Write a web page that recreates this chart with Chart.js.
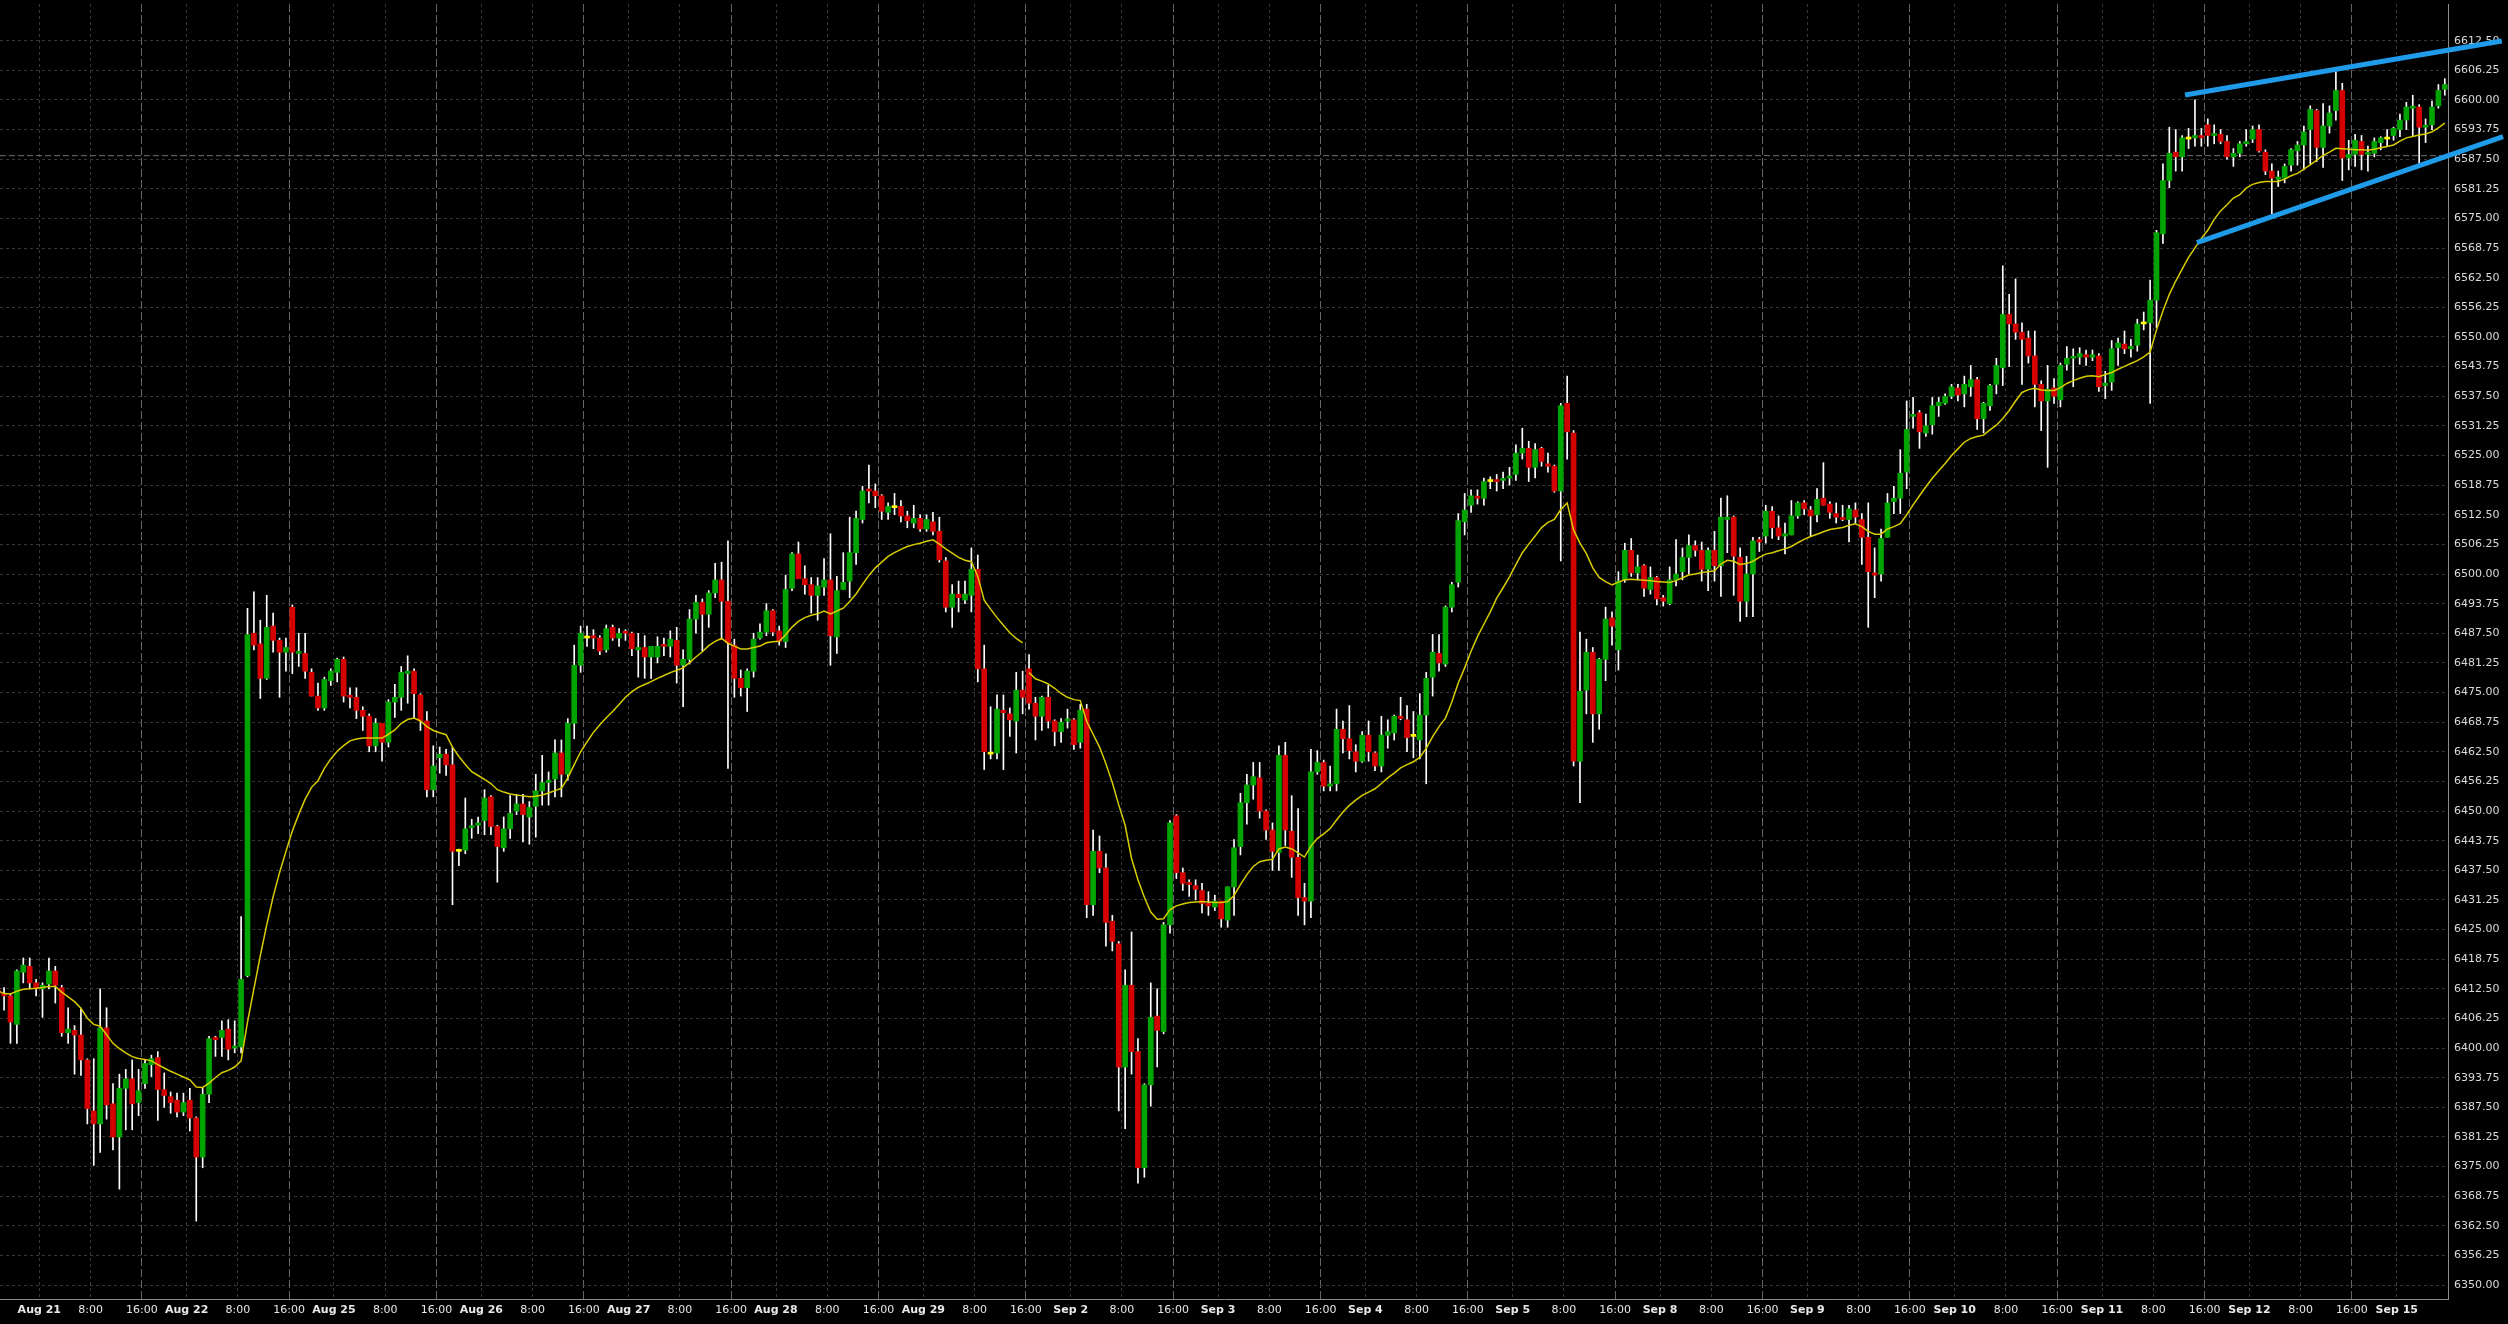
<!DOCTYPE html>
<html>
<head>
<meta charset="utf-8">
<script src="https://cdn.jsdelivr.net/npm/chart.js@4.4.1/dist/chart.umd.min.js"></script>
<style>
  html, body { margin: 0; padding: 0; background: #000; }
  canvas { display: block; background: #000; }
</style>
</head>
<body>
<canvas id="myChart" width="2508" height="1324"></canvas>
<script>
// hourly candles, Aug 20 18:00 .. Sep 15 07:00
const dayNames = ['Aug 21', 'Aug 22', 'Aug 25', 'Aug 26', 'Aug 27', 'Aug 28', 'Aug 29', 'Sep 2', 'Sep 3',
  'Sep 4', 'Sep 5', 'Sep 8', 'Sep 9', 'Sep 10', 'Sep 11', 'Sep 12', 'Sep 15'];
const hourNames = ['8:00', '16:00'];
const firstDayCandle = 7;
const candlesPerDay = 23;
const hourOffsets = [8, 16];

const opens = [
  6412.5, 6411.5, 6411, 6405, 6416, 6417.25, 6413.75, 6412.5, 6413.5, 6416.25,
  6412.75, 6403.25, 6403.75, 6402.75, 6397.5, 6386.75, 6384, 6404.25, 6388.25, 6381.25,
  6391.5, 6393.5, 6388.5, 6392.5, 6396.5, 6398, 6391.25, 6389.75, 6389, 6386.5,
  6389, 6385.25, 6377, 6390.25, 6402.25, 6402.25, 6404, 6400, 6400.25, 6415.25,
  6487.5, 6485.25, 6478, 6489, 6486, 6483.5, 6493, 6483.25, 6483.25, 6479.25,
  6474.25, 6471.75, 6477.5, 6479.25, 6482, 6474.25, 6474, 6471.25, 6470, 6463.75,
  6468.5, 6464.5, 6473, 6474, 6479, 6479.5, 6474.5, 6469, 6454.5, 6461.25,
  6462, 6459.75, 6441.5, 6441.75, 6446.5, 6447, 6448, 6453, 6446.75, 6442.25,
  6446.25, 6450, 6451.5, 6448.75, 6451, 6454.25, 6456, 6456.75, 6462.25, 6457.75,
  6468.5, 6480.75, 6486.5, 6487, 6486.5, 6484, 6488.75, 6486.5, 6487.75, 6487.5,
  6484, 6484.5, 6482.5, 6482.5, 6485, 6484.75, 6486, 6480.75, 6482, 6490.5,
  6494, 6491.5, 6496, 6498.75, 6494.25, 6485, 6478, 6476, 6479.5, 6486.5,
  6487.75, 6492.25, 6488, 6485.75, 6497, 6504.25, 6499, 6497.75, 6495.5, 6497.25,
  6498.75, 6486.75, 6496.75, 6498.5, 6504.5, 6511.5, 6517.75, 6517.5, 6516.5, 6513,
  6514, 6514.25, 6512.25, 6510.75, 6511.75, 6509.5, 6511, 6509, 6502.75, 6493,
  6495.75, 6494.5, 6495.5, 6501, 6480, 6462, 6462.25, 6471.25, 6470.5, 6469,
  6475.5, 6480, 6472.75, 6470, 6474, 6469, 6466.75, 6469, 6469.25, 6464.5,
  6471.5, 6430.25, 6441.5, 6438, 6426.75, 6422, 6396, 6413.25, 6399.25, 6374.75,
  6392.25, 6406.75, 6403.5, 6426, 6449, 6437, 6434.75, 6434.25, 6433.25, 6430.5,
  6429.75, 6431, 6427, 6434, 6442.5, 6451.75, 6455.5, 6457, 6450, 6446,
  6441.25, 6461.75, 6445.75, 6440.25, 6431.75, 6431, 6458.25, 6460.25, 6455.25, 6455.75,
  6467.25, 6465.25, 6462.5, 6460.5, 6466, 6462.25, 6459.5, 6466, 6466.5, 6470,
  6469.25, 6465.75, 6465, 6470.25, 6478.25, 6483.25, 6481, 6493, 6498.25, 6511,
  6514.5, 6516.25, 6516, 6519.5, 6519.75, 6519.75, 6520.25, 6521, 6525.5, 6526.5,
  6522.5, 6526.5, 6523.25, 6522.75, 6517.5, 6536, 6529.75, 6460.5, 6475.5, 6483.5,
  6470.5, 6482, 6490.75, 6484, 6498.75, 6505, 6500.25, 6501.75, 6496.75, 6499.25,
  6495, 6493.75, 6498.75, 6500.5, 6503.5, 6506, 6505, 6501, 6505, 6501.75,
  6511.5, 6512, 6503.5, 6494.25, 6500, 6507.25, 6508, 6513.25, 6509.75, 6508,
  6508.25, 6512.25, 6515, 6513.5, 6512.5, 6516, 6514.75, 6512.75, 6511.75, 6511.5,
  6513.5, 6511.5, 6507.75, 6500.25, 6500, 6507.75, 6515.25, 6516, 6521.5, 6533.25,
  6534, 6529.75, 6531.5, 6535.5, 6536, 6537.5, 6539.25, 6538, 6539.5, 6541,
  6532.75, 6535.5, 6540, 6543.5, 6554.75, 6552.75, 6551, 6549.75, 6546, 6540,
  6536.5, 6539.25, 6536.75, 6544.25, 6545.5, 6545.75, 6546.25, 6545.75, 6546, 6539.75,
  6540.5, 6547.75, 6548.5, 6547.5, 6548.25, 6552.75, 6553, 6557.75, 6571.75, 6583,
  6589, 6588, 6591.75, 6592, 6592.5, 6594.75, 6592.5, 6592.75, 6591.25, 6588,
  6588.75, 6590.75, 6591.75, 6593.75, 6589, 6585, 6583.25, 6583.5, 6586.25, 6589.25,
  6590.5, 6593.75, 6597.75, 6590, 6594.5, 6597.75, 6602, 6587.75, 6588.5, 6591.25,
  6588.5, 6588.75, 6591, 6591.75, 6592.5, 6593.75, 6595.75, 6598.25, 6598.5, 6594.25,
  6594.75, 6598.75, 6602.25
];

const highs = [
  6414, 6412.75, 6411.5, 6416.5, 6419, 6419, 6414.5, 6413.75, 6419, 6417.25,
  6413.25, 6408.5, 6404.75, 6408.25, 6397.75, 6397.75, 6412.5, 6408.5, 6392.5, 6394.5,
  6395.5, 6397.5, 6395.5, 6397.5, 6398.5, 6399.25, 6394.75, 6390.75, 6390.5, 6390.5,
  6391.5, 6385.5, 6391.5, 6402.5, 6402.5, 6405.75, 6406, 6405.75, 6427.75, 6492.75,
  6496.25, 6490.25, 6495.5, 6491.75, 6486.5, 6486.5, 6493.5, 6487.5, 6487.5, 6480,
  6477, 6478.25, 6480, 6482.25, 6482.5, 6476, 6476, 6472, 6470.5, 6469.5,
  6468.5, 6473.5, 6476.75, 6480.5, 6482.75, 6480, 6474.75, 6471, 6463.75, 6463.5,
  6463, 6463.5, 6442, 6452.75, 6448.25, 6448.75, 6454.5, 6453.25, 6447, 6448.75,
  6453.25, 6453.5, 6453.5, 6452, 6457.75, 6461.75, 6458.25, 6465, 6465, 6469.5,
  6485, 6489, 6489, 6488.25, 6487, 6489.25, 6489.25, 6488.5, 6488.25, 6487.75,
  6487.5, 6487, 6484.75, 6486.75, 6486.5, 6488, 6488.75, 6484, 6492.5, 6495.5,
  6494.75, 6496.5, 6502.25, 6502.5, 6507, 6486.25, 6479.75, 6480, 6487.5, 6489.5,
  6493.75, 6492.5, 6489, 6499.75, 6504.5, 6506.75, 6501.75, 6499.25, 6499.25, 6503.25,
  6508.5, 6499.5, 6504.5, 6512, 6513.25, 6518.5, 6523, 6519, 6516.75, 6515,
  6517, 6515.5, 6513.25, 6514.5, 6512.5, 6512.5, 6513, 6512, 6503.5, 6497.75,
  6498.5, 6498.5, 6505.5, 6504, 6485, 6472, 6474.5, 6474.5, 6471.75, 6479.25,
  6479.5, 6483, 6474, 6474.25, 6476.5, 6469.25, 6469.5, 6471.5, 6469.5, 6472.5,
  6472.5, 6446, 6444.75, 6441, 6428, 6422.5, 6416.5, 6424.5, 6402, 6392.5,
  6413.75, 6412.5, 6426.5, 6448, 6449.25, 6438, 6435.5, 6435.5, 6434.75, 6433,
  6432.25, 6431, 6434, 6444, 6453.75, 6457.75, 6460.25, 6460.25, 6450.25, 6447.5,
  6463.75, 6464.5, 6453.25, 6450.5, 6434.75, 6463, 6462.75, 6460.75, 6459.5, 6471.5,
  6469, 6472.25, 6464, 6466.75, 6469, 6462.5, 6470, 6469.25, 6470.25, 6474,
  6472.25, 6471, 6474.75, 6479.25, 6487.25, 6487.25, 6493.25, 6498.25, 6512.75, 6517,
  6517.75, 6517.75, 6520.25, 6520.5, 6521, 6521.5, 6522.5, 6527.25, 6530.75, 6528,
  6527.5, 6526.75, 6525.5, 6523, 6536, 6541.75, 6530.25, 6487.75, 6486.25, 6484.5,
  6482.25, 6493, 6492, 6500.5, 6506.5, 6507.5, 6504, 6502, 6501.5, 6499.5,
  6495.5, 6501.5, 6507.25, 6505.5, 6508.25, 6507, 6506.75, 6505.5, 6509, 6516,
  6516.5, 6512.25, 6505.5, 6503.75, 6507.75, 6507.75, 6514.5, 6514.25, 6512.25, 6510.75,
  6515.5, 6515.25, 6515.5, 6514.25, 6518, 6523.5, 6515.25, 6515, 6514.5, 6514.5,
  6515, 6512.75, 6515, 6505.5, 6509.5, 6517, 6518.5, 6526.25, 6536.5, 6537.25,
  6534.5, 6533.75, 6537.25, 6537.25, 6538, 6540, 6540, 6541.75, 6544, 6541.5,
  6536.25, 6540, 6545.5, 6565, 6559, 6562.25, 6553, 6551.25, 6551.25, 6540.75,
  6544, 6541.25, 6544.5, 6548, 6547.5, 6547.75, 6547.25, 6547.25, 6546.5, 6542.75,
  6549.25, 6549.75, 6551.25, 6549.5, 6553.75, 6555.25, 6562, 6572.5, 6586.5, 6594.25,
  6593.75, 6592.5, 6594, 6600, 6594, 6596, 6594.75, 6593.75, 6592.5, 6589.75,
  6591.25, 6593.75, 6594.5, 6594.75, 6589.5, 6586.5, 6585, 6586.5, 6589.75, 6591.25,
  6594.5, 6598.75, 6598, 6599.25, 6598.75, 6606, 6603.5, 6591.5, 6592.75, 6592.5,
  6590.25, 6592, 6592.25, 6593.75, 6594.25, 6597, 6599.5, 6601, 6599, 6596,
  6599.75, 6603.25, 6604.5
];

const lows = [
  6408.5, 6408, 6401, 6401, 6413.75, 6412.5, 6411, 6406.5, 6412.5, 6409.5,
  6402.5, 6401, 6394.5, 6394.25, 6384, 6375.25, 6378, 6385, 6378.5, 6370.25,
  6382.75, 6382.75, 6385.75, 6391.5, 6394, 6384.75, 6387.5, 6386.25, 6385.5, 6385.75,
  6382.5, 6363.5, 6374.75, 6388.5, 6398.25, 6398.25, 6397.5, 6399, 6399, 6415,
  6484, 6473.75, 6477.75, 6483.5, 6474, 6479.5, 6479, 6480.5, 6478, 6474.25,
  6471.25, 6471.25, 6476.5, 6477.25, 6473, 6471.75, 6469.5, 6467, 6462.5, 6462.5,
  6460.5, 6463.5, 6469.75, 6471.25, 6472.75, 6469.5, 6467, 6453, 6453, 6458,
  6457.5, 6430.25, 6438.5, 6441, 6444.25, 6445.25, 6445, 6445, 6435, 6441.5,
  6444.25, 6449.25, 6443.5, 6443, 6444.5, 6451.25, 6451.25, 6453, 6453, 6456.5,
  6465.25, 6479.25, 6484.75, 6484.25, 6483, 6483.5, 6486, 6484.75, 6486, 6482.75,
  6478.25, 6478, 6478, 6481.25, 6482.75, 6482.5, 6477, 6472, 6481, 6487.5,
  6483.75, 6488.75, 6495, 6486.25, 6459, 6474, 6474.25, 6471, 6478.25, 6486.25,
  6487, 6487, 6485, 6484.5, 6496.5, 6499, 6495.75, 6491.75, 6490.25, 6495.5,
  6480.75, 6483.25, 6496.75, 6495, 6502, 6510.75, 6515, 6514, 6511.5, 6511.5,
  6512.5, 6511, 6509.75, 6509.75, 6509, 6509, 6508.25, 6502.5, 6492, 6488.75,
  6492, 6493.75, 6492, 6477.25, 6458.75, 6461, 6461, 6458.75, 6465.75, 6462.25,
  6470.5, 6471.5, 6465, 6467, 6467.5, 6463.75, 6464.5, 6467.5, 6463, 6463.25,
  6427.5, 6428, 6437, 6421.5, 6420.5, 6386.75, 6383, 6394.5, 6371.5, 6372.75,
  6387.75, 6396, 6403, 6424.25, 6435.75, 6433.25, 6432, 6431.25, 6428.5, 6428,
  6429, 6425.5, 6425.5, 6428, 6440.75, 6447.25, 6452.5, 6448.5, 6444, 6437.5,
  6437.5, 6442.75, 6436, 6428, 6426, 6427.5, 6457.75, 6454.25, 6454.25, 6454.25,
  6462.25, 6461, 6458.25, 6460.25, 6460.5, 6458.5, 6458.25, 6463.25, 6465, 6469.25,
  6462.5, 6461.25, 6461, 6455.75, 6474.25, 6479.5, 6480.5, 6492, 6497.25, 6508.25,
  6513, 6514.75, 6514.5, 6518, 6517.5, 6518, 6518.75, 6519.75, 6524.25, 6519.5,
  6520.25, 6522.75, 6521.5, 6517.25, 6502.75, 6524.25, 6459.5, 6451.75, 6470.5, 6464.5,
  6467.25, 6477.5, 6485, 6479.75, 6498.25, 6499.5, 6498.75, 6495.25, 6495.75, 6493.5,
  6493.25, 6493.5, 6497.5, 6498.75, 6500, 6503.75, 6498.5, 6496.5, 6498.5, 6495.25,
  6504.5, 6495.5, 6490, 6491, 6491, 6504.75, 6506.5, 6507.5, 6507.25, 6504.25,
  6508.25, 6511.75, 6512.5, 6508, 6511, 6514.5, 6511.75, 6510.75, 6511.25, 6506.75,
  6510.75, 6502, 6488.75, 6495, 6498.5, 6507.75, 6512.75, 6512.75, 6518, 6530.75,
  6526.5, 6529, 6529.5, 6533.25, 6535.75, 6537, 6536.5, 6535.25, 6537.5, 6530.5,
  6529.75, 6534.5, 6538, 6539.75, 6543.75, 6549.5, 6540, 6544.5, 6535.25, 6530.25,
  6522.5, 6536, 6535.25, 6543, 6539.5, 6544.25, 6544, 6545, 6538.5, 6537,
  6538.75, 6544, 6546.5, 6545.75, 6547, 6551.5, 6536, 6552, 6569.75, 6581.5,
  6585, 6585, 6589.75, 6590.25, 6590.25, 6590.25, 6590.75, 6590.75, 6587.5, 6586,
  6588, 6590.25, 6591, 6589, 6584.25, 6576, 6581.75, 6582.5, 6585, 6586.25,
  6585.25, 6586.5, 6587, 6585.75, 6593, 6595.75, 6583, 6585.25, 6586, 6585.25,
  6585, 6588, 6589.5, 6590.25, 6591.5, 6592.25, 6593.75, 6592.25, 6586.5, 6591,
  6593.75, 6598.25, 6601
];

const closes = [
  6411.5, 6411, 6405.5, 6416.25, 6417.5, 6413.75, 6412.5, 6413.25, 6416.25, 6413.25,
  6403.25, 6404, 6402.75, 6397.5, 6387.25, 6384, 6404.25, 6388, 6381.25, 6391.5,
  6393.5, 6388.25, 6391, 6396.75, 6397.75, 6391.25, 6390, 6388.5, 6386.5, 6388.5,
  6385.25, 6377, 6390.25, 6402, 6401.75, 6403.75, 6399.75, 6400.25, 6414.5, 6487.25,
  6485, 6478, 6488.75, 6486, 6483.5, 6484.5, 6483.5, 6483.5, 6479.5, 6474.25,
  6471.75, 6477.75, 6479.5, 6482, 6474.25, 6474, 6471.25, 6470, 6463.75, 6468.5,
  6464.5, 6473, 6474, 6479.25, 6479.5, 6474.75, 6469, 6454.5, 6459.5, 6462,
  6459.75, 6441.5, 6441.5, 6446.25, 6446.75, 6447.5, 6452.75, 6446.75, 6442.5, 6446.25,
  6449.5, 6451.5, 6449.25, 6450.75, 6454.25, 6456, 6456.5, 6462.25, 6457.75, 6468.5,
  6480.75, 6487.5, 6486.5, 6486.5, 6483.75, 6488.5, 6486.5, 6487.5, 6487.5, 6484.25,
  6484.5, 6482.5, 6484.75, 6484.75, 6484.75, 6486.25, 6480.75, 6482, 6490.5, 6494,
  6491.5, 6496, 6498.75, 6494.25, 6485.5, 6478, 6476, 6479.5, 6486.25, 6487.75,
  6492.25, 6487.75, 6485.75, 6496.75, 6504.25, 6499, 6497.75, 6495.5, 6497.5, 6498.75,
  6487, 6496.5, 6498.25, 6504.5, 6511.75, 6517.5, 6517.5, 6516.5, 6513.25, 6514.25,
  6514, 6512.25, 6511.25, 6511.75, 6509.5, 6511.5, 6509, 6503, 6493, 6495.75,
  6495, 6495.75, 6501, 6480, 6462.5, 6462, 6471.5, 6470.75, 6469.25, 6475.5,
  6474, 6472.75, 6470, 6474, 6469, 6466.75, 6468.75, 6469.25, 6464, 6471.25,
  6430.25, 6441.5, 6438, 6426.5, 6422.5, 6396, 6413.25, 6399.25, 6374.75, 6392.25,
  6406.5, 6403.75, 6426, 6447.5, 6437, 6434.75, 6434.5, 6433.5, 6430.5, 6430,
  6431, 6427.25, 6434, 6442.25, 6451.75, 6455.5, 6457.25, 6450, 6446, 6441.5,
  6461.75, 6446, 6440.25, 6431.75, 6431, 6458.25, 6460.25, 6455.25, 6455.75, 6467.25,
  6465.25, 6462.75, 6460.5, 6466, 6462.5, 6459.5, 6466, 6466.75, 6470, 6469.5,
  6465.5, 6465.75, 6470.25, 6478, 6483.5, 6481.25, 6493, 6497.75, 6511.25, 6513.5,
  6516.5, 6516, 6519.5, 6519.5, 6519.5, 6520, 6520.5, 6525.5, 6526.5, 6522.5,
  6526.25, 6523.75, 6522.75, 6517.5, 6535.5, 6530, 6460.5, 6475.25, 6483.5, 6470.5,
  6482, 6490.5, 6489, 6498.5, 6505, 6500.25, 6501.5, 6497, 6499.25, 6494.75,
  6494.25, 6498.75, 6500, 6503.5, 6506, 6505, 6501, 6505, 6501.75, 6512,
  6512, 6503.75, 6494.25, 6500, 6507, 6506.75, 6513.25, 6509.75, 6508, 6508.5,
  6512.25, 6515, 6513.75, 6512.25, 6515.75, 6514.5, 6513, 6512, 6511.5, 6513.75,
  6512, 6507.75, 6500.5, 6499.75, 6507.5, 6515, 6516, 6521.25, 6530.5, 6533.5,
  6530, 6531.25, 6535.5, 6536.25, 6537.5, 6539.5, 6537.75, 6540, 6541, 6532.75,
  6536, 6539.75, 6544, 6554.75, 6552.75, 6551, 6549.5, 6546, 6540, 6536.5,
  6539, 6537.5, 6544, 6545.5, 6545.75, 6546.5, 6545.75, 6546.25, 6539.5, 6540.25,
  6547.5, 6548.75, 6547.5, 6548, 6552.75, 6552.75, 6557.75, 6572, 6583, 6588.75,
  6588, 6592, 6591.75, 6592.5, 6592, 6592.5, 6592.75, 6591.25, 6588, 6588.75,
  6590.75, 6591.25, 6593.75, 6589.25, 6585, 6583.5, 6583.75, 6586, 6589.5, 6590.5,
  6593.25, 6598, 6590, 6594.5, 6597.25, 6602, 6587.75, 6588.5, 6591.5, 6588.5,
  6588.75, 6591.25, 6592, 6591.75, 6594, 6595.75, 6598.5, 6598.5, 6594.25, 6594.5,
  6598.5, 6602, 6603.25
];

// yellow moving average as drawn on the chart; it breaks after candle 160
const maLine = [
  6412.1, 6411.5, 6411.4, 6412.0, 6412.4, 6412.5, 6412.6, 6412.8, 6413.0, 6413.0,
  6411.8, 6410.8, 6409.8, 6408.4, 6406.3, 6405.0, 6404.6, 6402.8, 6401.0, 6399.9,
  6399.0, 6398.2, 6397.8, 6397.6, 6397.3, 6396.5, 6395.8, 6395.1, 6394.5, 6393.9,
  6393.3, 6391.8, 6391.7, 6392.6, 6393.8, 6394.8, 6395.3, 6396.0, 6397.3, 6405.5,
  6412.5, 6419.5, 6426.0, 6431.9, 6437.0, 6441.5, 6445.8, 6449.3, 6452.5, 6455.0,
  6456.4, 6459.0, 6461.0, 6462.6, 6463.8, 6464.8, 6465.2, 6465.4, 6465.4, 6465.4,
  6465.4, 6466.2, 6467.1, 6468.5, 6469.3, 6469.6, 6469.0, 6467.8, 6467.0, 6466.5,
  6466.1, 6463.5, 6461.5, 6459.8, 6458.3, 6457.5, 6456.7, 6455.8, 6454.5, 6454.0,
  6453.6, 6453.4, 6453.2, 6453.0, 6453.1, 6453.4, 6453.8, 6454.3, 6454.8, 6457.0,
  6459.8, 6462.5, 6464.6, 6466.6, 6468.2, 6469.7, 6471.0, 6472.5, 6474.0, 6475.2,
  6476.1, 6476.7, 6477.3, 6478.0, 6478.6, 6479.2, 6479.7, 6480.2, 6481.3, 6482.5,
  6483.6, 6484.9, 6485.8, 6486.4, 6485.4, 6484.8, 6484.2, 6484.2, 6484.5, 6484.8,
  6485.5, 6485.7, 6485.8, 6487.2, 6488.8, 6490.0, 6490.8, 6491.3, 6491.6, 6492.2,
  6491.6, 6492.2, 6492.8, 6494.2, 6495.8, 6497.8, 6499.7, 6501.3, 6502.5, 6503.7,
  6504.5, 6505.2, 6505.8, 6506.2, 6506.5, 6506.9, 6507.2, 6506.3, 6505.3, 6504.4,
  6503.5, 6502.9, 6502.6, 6499.5, 6494.5, 6492.6, 6490.8, 6489.2, 6487.6, 6486.4,
  6485.5, 6479.2, 6477.9, 6477.4, 6476.8, 6475.9, 6474.8, 6474.0, 6473.5, 6473.3,
  6468.9, 6466.2, 6463.5, 6460.0, 6456.0, 6451.3, 6447.0, 6440.0, 6435.5, 6431.8,
  6428.7, 6427.2, 6427.3, 6429.2, 6430.0, 6430.4, 6430.7, 6430.8, 6430.9, 6430.8,
  6430.7, 6430.7, 6430.9, 6432.2, 6434.5, 6436.6, 6438.3, 6439.3, 6439.6, 6439.8,
  6442.0, 6442.4, 6442.0, 6441.2, 6440.3, 6442.6, 6444.2, 6445.2, 6446.3, 6448.1,
  6449.8, 6451.2, 6452.3, 6453.3, 6454.0, 6454.7, 6455.8, 6457.0, 6458.0, 6459.1,
  6459.8, 6460.4, 6461.3, 6463.2, 6465.7, 6467.8, 6469.6, 6473.0, 6477.0, 6480.2,
  6483.7, 6486.8, 6489.4, 6492.0, 6494.9, 6497.1, 6499.4, 6502.0, 6504.5, 6506.3,
  6508.0, 6509.8, 6510.9, 6511.5, 6513.6, 6515.0, 6509.3, 6506.5, 6504.3, 6501.3,
  6499.3, 6498.4, 6497.7, 6498.3, 6498.8, 6498.9, 6498.8, 6498.7, 6498.6, 6498.4,
  6498.3, 6498.2, 6498.6, 6499.2, 6499.8, 6500.0, 6500.3, 6500.5, 6500.7, 6502.1,
  6502.9, 6502.7, 6502.0, 6502.2, 6502.7, 6503.5, 6504.2, 6504.5, 6504.9, 6505.3,
  6505.8, 6506.6, 6507.3, 6507.9, 6508.4, 6508.9, 6509.4, 6509.6, 6509.8, 6510.3,
  6510.6, 6510.0, 6509.0, 6508.4, 6508.4, 6509.5, 6510.0, 6510.6, 6512.5, 6514.6,
  6516.5, 6518.4, 6520.2, 6521.8, 6523.3, 6525.0, 6526.4, 6527.8, 6528.6, 6529.0,
  6529.3, 6530.4, 6531.4, 6532.8, 6534.5, 6536.5, 6538.3, 6538.9, 6539.2, 6538.8,
  6538.7, 6538.7, 6539.3, 6540.2, 6540.8, 6541.3, 6541.7, 6541.8, 6541.6, 6542.1,
  6542.5, 6543.2, 6543.8, 6544.4, 6545.0, 6545.8, 6546.8, 6551.5, 6555.5, 6559.0,
  6561.8, 6564.3, 6566.8, 6568.8, 6570.8, 6572.5, 6574.8, 6576.6, 6577.9, 6579.3,
  6580.0, 6581.4, 6582.2, 6582.6, 6582.8, 6582.8, 6582.8, 6583.3, 6584.0, 6584.5,
  6585.4, 6586.3, 6587.3, 6588.3, 6589.0, 6589.8, 6589.7, 6589.6, 6589.5, 6589.5,
  6589.4, 6589.6, 6589.9, 6590.2, 6590.5, 6591.3, 6592.0, 6592.3, 6592.6, 6592.8,
  6593.3, 6594.1, 6595.1
];
const maBreakAfter = 160;

// hand-drawn channel lines (candle index, price)
const upperTrendX = [341.45, 390.9];
const upperTrendY = [6601.05, 6612.45];
const lowerTrendX = [343.3, 391.1];
const lowerTrendY = [6569.9, 6592.25];

const markerPrice = 6588.25;

// price axis ticks
const yTickStart = 6350;
const yTickStep = 6.25;
const yTickCount = 43;

const xMin = 0.365;
const xMax = 382.5;
const yMin = 6347.07;
const yMax = 6620.24;

const GREEN = '#00a400';
const RED = '#d50000';
const DOJI = '#ffff00';
const GRID = '#383838';
const FONT = 'DejaVu Sans';

const idx = closes.map((c, i) => i);
const xTicks = [];
dayNames.forEach((d, k) => {
  const start = firstDayCandle + k * candlesPerDay - 0.5;
  xTicks.push({ value: start, label: d, kind: 'day' });
  hourOffsets.forEach((h, j) => {
    const v = start + h;
    if (v < closes.length - 0.5) {
      xTicks.push({ value: v, label: hourNames[j], kind: j === 1 ? 'session' : 'hour' });
    }
  });
});
const yTicks = [];
for (let k = 0; k < yTickCount; k++) yTicks.push(yTickStart + k * yTickStep);

// keep the plot area exactly where the terminal puts it
const noPad = s => { s.paddingTop = 0; s.paddingBottom = 0; s.paddingLeft = 0; s.paddingRight = 0; };

let ctx = document.querySelector('#myChart').getContext('2d');
let myChart = new Chart(ctx, {
  type: 'bar',
  data: {
    datasets: [
      {
        type: 'line',
        data: upperTrendX.map((x, k) => ({ x: x, y: upperTrendY[k] })),
        borderColor: '#1f9bea',
        borderWidth: 5,
        pointRadius: 0,
        clip: false,
        order: 0
      },
      {
        type: 'line',
        data: lowerTrendX.map((x, k) => ({ x: x, y: lowerTrendY[k] })),
        borderColor: '#1f9bea',
        borderWidth: 5,
        pointRadius: 0,
        clip: false,
        order: 0
      },
      {
        type: 'line',
        data: idx.map(i => ({ x: i, y: maLine[i] })),
        borderColor: '#d8cc00',
        borderWidth: 1.5,
        pointRadius: 0,
        tension: 0,
        segment: {
          borderColor: c => c.p0DataIndex === maBreakAfter ? 'rgba(0,0,0,0)' : '#d8cc00'
        },
        order: 1
      },
      {
        data: idx.map(i => ({ x: i, y: [Math.min(opens[i], closes[i]), Math.max(opens[i], closes[i])] })),
        backgroundColor: idx.map(i => closes[i] > opens[i] ? GREEN : (closes[i] < opens[i] ? RED : DOJI)),
        barThickness: 5,
        minBarLength: 2,
        borderWidth: 0,
        grouped: false,
        order: 2
      },
      {
        data: idx.map(i => ({ x: i, y: [lows[i], highs[i]] })),
        backgroundColor: '#ffffff',
        barThickness: 1,
        borderWidth: 0,
        grouped: false,
        order: 3
      },
      {
        type: 'line',
        data: [{ x: xMin, y: markerPrice }, { x: xMax, y: markerPrice }],
        borderColor: '#707070',
        borderWidth: 1,
        borderDash: [6, 3],
        pointRadius: 0,
        order: 4
      }
    ]
  },
  options: {
    responsive: false,
    devicePixelRatio: 1,
    animation: false,
    layout: { padding: { top: 4, left: 0, right: 0, bottom: 0 } },
    plugins: {
      legend: { display: false },
      tooltip: { enabled: false }
    },
    scales: {
      x: {
        type: 'linear',
        position: 'bottom',
        min: xMin,
        max: xMax,
        offset: false,
        grid: {
          offset: false,
          drawTicks: false,
          lineWidth: 1,
          color: c => (xTicks[c.index] && xTicks[c.index].kind === 'session') ? 'rgba(0,0,0,0)' : GRID
        },
        border: { display: true, color: '#8a8a8a', width: 1, dash: [3, 3] },
        ticks: {
          autoSkip: false,
          maxRotation: 0,
          padding: 5,
          color: '#e8e8e8',
          font: c => ({ family: FONT, size: 11, weight: (xTicks[c.index] && xTicks[c.index].kind === 'day') ? 'bold' : 'normal' }),
          callback: (v, i) => xTicks[i] ? xTicks[i].label : ''
        },
        afterBuildTicks: s => { s.ticks = xTicks.map(t => ({ value: t.value })); },
        afterFit: s => { s.height = 25; noPad(s); }
      },
      xs: {
        type: 'linear',
        position: 'bottom',
        min: xMin,
        max: xMax,
        offset: false,
        grid: { offset: false, drawTicks: false, color: '#666666', lineWidth: 1 },
        border: { display: false, dash: [8, 3] },
        ticks: { display: false },
        afterBuildTicks: s => { s.ticks = xTicks.filter(t => t.kind === 'session').map(t => ({ value: t.value })); },
        afterFit: s => { s.height = 0; noPad(s); }
      },
      y: {
        type: 'linear',
        position: 'right',
        min: yMin,
        max: yMax,
        grid: { drawTicks: false, color: GRID, lineWidth: 1 },
        border: { display: true, color: '#8a8a8a', width: 1, dash: [3, 3] },
        ticks: {
          padding: 6,
          color: '#dadada',
          font: { family: FONT, size: 11 },
          callback: v => v.toFixed(2)
        },
        afterBuildTicks: s => { s.ticks = yTicks.map(v => ({ value: v })); },
        afterFit: s => { s.width = 60; noPad(s); }
      }
    }
  }
});
</script>
</body>
</html>
